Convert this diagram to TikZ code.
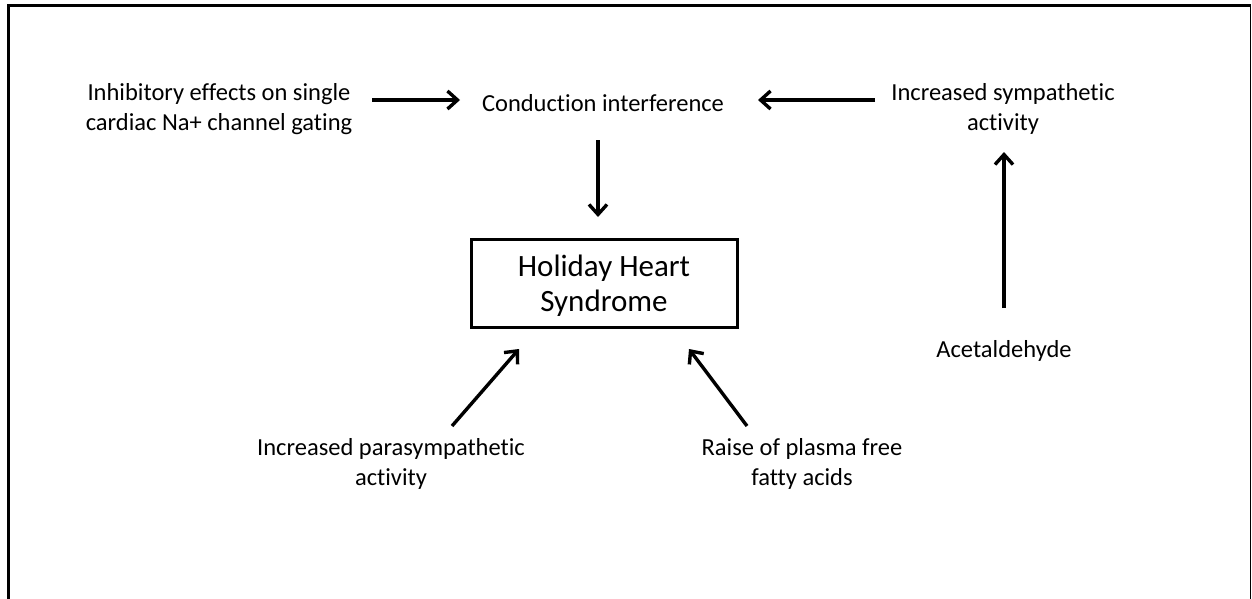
\documentclass[tikz,border=0pt]{standalone}
\usepackage{fontspec}
\setmainfont[RawFeature={-liga;-dlig;-clig}]{Carlito}
\usetikzlibrary{arrows.meta}
\begin{document}
\begin{tikzpicture}[x=1pt,y=-1pt,
  lbl/.style={font=\fontsize{24.5}{30}\selectfont, align=center, inner sep=0pt},
  conn/.style={line width=3.4pt, -{Straight Barb[length=10pt,width=18pt,line width=3.4pt]}},
  hbox/.style={draw, line width=3pt, minimum width=266pt, minimum height=88pt, inner sep=0pt},
  htext/.style={align=center, font=\fontsize{31}{35}\selectfont, inner sep=0pt}]
\useasboundingbox (0,0) rectangle (1252,599);
\draw[line width=3pt] (8.5,599) -- (8.5,5.5) -- (1251,5.5);
\draw[line width=1.5pt] (1250.5,5.5) -- (1250.5,599);

\node[lbl] (inh) at (219,109) {Inhibitory effects on single\\cardiac Na+ channel gating};
\node[lbl] (cond) at (603,103) {Conduction interference};
\node[lbl] (symp) at (1003,109) {Increased sympathetic\\activity};
\node[hbox] (hhs) at (604,283) {};
\node[htext] (hhst) at (604,286) {Holiday Heart\\Syndrome};
\node[lbl] (acet) at (1004,351) {Acetaldehyde};
\node[lbl] (para) at (391,464) {Increased parasympathetic\\activity};
\node[lbl] (raise) at (802,464) {Raise of plasma free\\fatty acids};

\coordinate (a1s) at (372,100); \coordinate (a1e) at (460,100);
\coordinate (a2s) at (875,100); \coordinate (a2e) at (758,100);
\coordinate (a3s) at (598,140); \coordinate (a3e) at (598,217);
\coordinate (a4s) at (1004,308); \coordinate (a4e) at (1004,152);
\coordinate (a5s) at (452,426); \coordinate (a5e) at (519,349);
\coordinate (a6s) at (747,426); \coordinate (a6e) at (689,349);
\draw[conn] (a1s) -- (a1e);
\draw[conn] (a2s) -- (a2e);
\draw[conn] (a3s) -- (a3e);
\draw[conn] (a4s) -- (a4e);
\draw[conn] (a5s) -- (a5e);
\draw[conn] (a6s) -- (a6e);
\end{tikzpicture}
\end{document}
